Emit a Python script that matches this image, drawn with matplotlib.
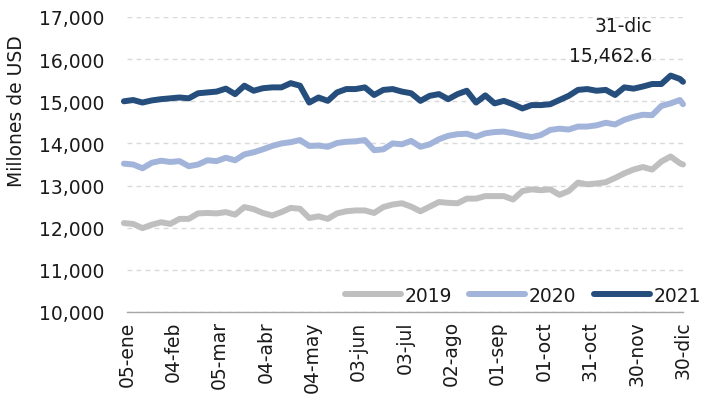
import numpy as np
import matplotlib
matplotlib.use("Agg")
import matplotlib.pyplot as plt
from matplotlib.ticker import FuncFormatter

# x positions: day of year, read roughly every 6 days
days = list(range(3, 364, 6)) + [365]

v2019 = [12110, 12090, 11990, 12070, 12130, 12090, 12210, 12210, 12340, 12350,
         12340, 12370, 12310, 12490, 12440, 12350, 12290, 12370, 12470, 12450,
         12230, 12270, 12210, 12340, 12390, 12410, 12410, 12350, 12490, 12550,
         12580, 12500, 12390, 12500, 12610, 12590, 12580, 12690, 12690, 12750,
         12750, 12750, 12670, 12870, 12910, 12890, 12910, 12780, 12870, 13070,
         13030, 13050, 13080, 13180, 13290, 13380, 13440, 13380, 13570, 13690,
         13530, 13500]

v2020 = [13520, 13500, 13410, 13540, 13590, 13560, 13580, 13460, 13500, 13600,
         13580, 13660, 13600, 13740, 13790, 13860, 13940, 14000, 14030, 14080,
         13940, 13950, 13920, 14010, 14040, 14050, 14080, 13840, 13860, 14000,
         13980, 14060, 13920, 13980, 14100, 14180, 14220, 14230, 14160, 14240,
         14270, 14280, 14240, 14190, 14150, 14200, 14320, 14350, 14330, 14400,
         14400, 14430, 14490, 14450, 14560, 14630, 14680, 14670, 14890, 14950,
         15030, 14930]

v2021 = [15000, 15030, 14970, 15020, 15050, 15070, 15090, 15070, 15190, 15210,
         15230, 15300, 15170, 15370, 15250, 15310, 15330, 15330, 15430, 15370,
         14970, 15090, 15010, 15210, 15290, 15290, 15330, 15150, 15270, 15290,
         15230, 15190, 15010, 15130, 15170, 15050, 15170, 15250, 14970, 15140,
         14950, 15010, 14930, 14830, 14910, 14910, 14930, 15030, 15130, 15270,
         15290, 15250, 15270, 15150, 15330, 15300, 15350, 15410, 15410, 15610,
         15530, 15462.6]

series = ['2019', '2020', '2021']
colors = ['#bfbfbf', '#a3b4da', '#254e7d']

tick_days = list(range(5, 366, 30))
tick_labels = ['05-ene', '04-feb', '05-mar', '04-abr', '04-may', '03-jun', '03-jul',
               '02-ago', '01-sep', '01-oct', '31-oct', '30-nov', '30-dic']
last_date = '31-dic'

plt.rcParams['font.family'] = 'DejaVu Sans'
plt.rcParams['font.size'] = 13.5
txt = '#1a1a1a'

fig = plt.figure(figsize=(7.02, 4.02), dpi=100)
ax = fig.add_axes([127/702, 1-313/402, 556/702, 295/402])

for name, vals, c in zip(series, [v2019, v2020, v2021], colors):
    ax.plot(days, vals, color=c, lw=4.3, label=name, solid_joinstyle='round',
            solid_capstyle='round', clip_on=False, zorder=3)

ax.set_xlim(5, 365)
ax.set_ylim(10000, 17000)
ax.set_yticks(np.arange(10000, 17001, 1000))
ax.yaxis.set_major_formatter(FuncFormatter(lambda v, p: f'{v:,.0f}'))
ax.set_xticks(tick_days)
ax.set_xticklabels(tick_labels, rotation=90)
ax.tick_params(axis='y', length=0, pad=16, colors=txt)
ax.tick_params(axis='x', length=0, pad=6, colors=txt)

ax.grid(axis='y', color='#d9d9d9', lw=1, linestyle=(0, (3.5, 3)))
ax.set_axisbelow(True)
for s in ['top', 'right', 'left']:
    ax.spines[s].set_visible(False)
ax.spines['bottom'].set_color('#a6a6a6')
ax.spines['bottom'].set_linewidth(1)

fig.text(17/702, 1-111/402, 'Millones de USD', rotation=90, ha='center', va='center',
         color=txt)

# last value note
ax.text(345, 16810, last_date, ha='right', va='center', color=txt)
ax.text(345, 16075, f'{v2021[-1]:,.1f}', ha='right', va='center', color=txt)

leg = ax.legend(loc='lower right', bbox_to_anchor=(701/702, 1-306/402),
                bbox_transform=fig.transFigure, ncol=3, frameon=False,
                handlelength=3.0, handletextpad=0.2, columnspacing=0.9,
                borderpad=0, borderaxespad=0)
for t in leg.get_texts():
    t.set_color(txt)

fig.savefig('out.png', dpi=100)
